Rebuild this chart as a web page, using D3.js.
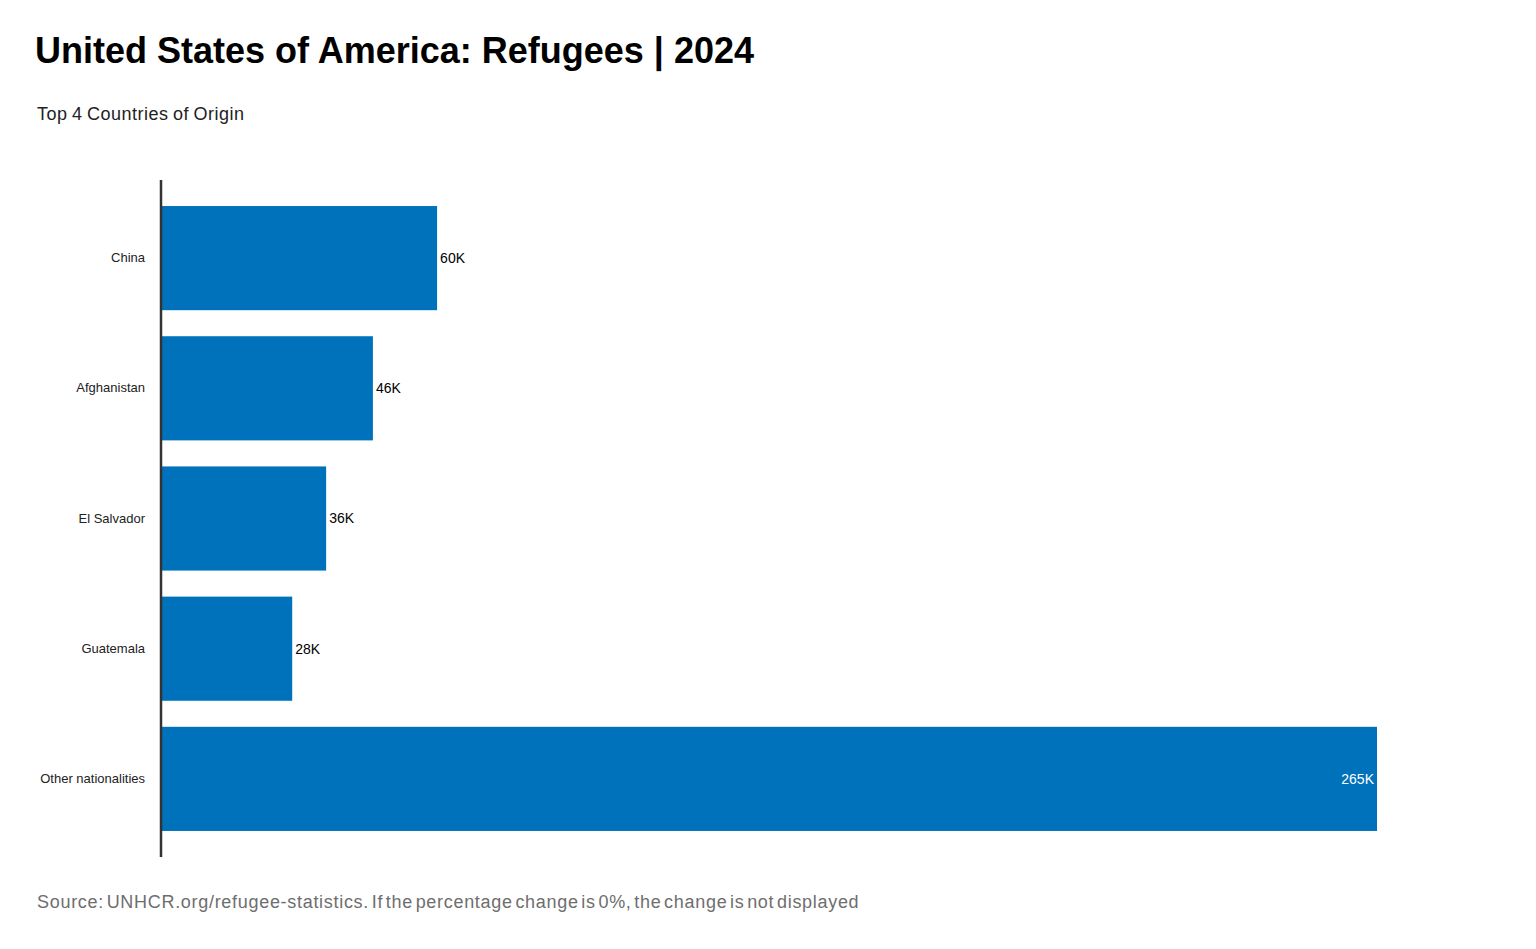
<!DOCTYPE html>
<html>
<head>
<meta charset="utf-8">
<script src="https://cdn.jsdelivr.net/npm/d3@7"></script>
<style>
  body { margin: 0; background: #fff; }
  svg { font-family: "Liberation Sans", Arial, sans-serif; }
</style>
</head>
<body>
<div class="chart"></div>
<script>
// DATA
const COUNTRIES = ["China", "Afghanistan", "El Salvador", "Guatemala", "Other nationalities"];
const REFUGEES = [60000, 46000, 35800, 28400, 265000];

const TITLE = "United States of America: Refugees | 2024";
const SUBTITLE = "Top 4 Countries of Origin";
const SOURCE = "Source: UNHCR.org/refugee-statistics. If the percentage change is 0%, the change is not displayed";

// GLOBAL CONSTANTS
const FRAME_WIDTH = 1536;
const FRAME_HEIGHT = 949;
const MARGINS = {left: 162, right: 159, top: 180, bottom: 92};

const data = COUNTRIES.map((c, i) => ({country: c, value: REFUGEES[i]}));

const FRAME = d3.select(".chart")
  .append("svg")
    .attr("width", FRAME_WIDTH)
    .attr("height", FRAME_HEIGHT);

// titles
FRAME.append("text")
  .attr("x", 35).attr("y", 63)
  .attr("font-size", "36px")
  .attr("font-weight", "bold")
  .attr("fill", "#000")
  .text(TITLE);

FRAME.append("text")
  .attr("x", 37).attr("y", 120)
  .attr("font-size", "18px")
  .attr("letter-spacing", "0.5px")
  .attr("word-spacing", "-1px")
  .attr("fill", "#222")
  .text(SUBTITLE);

FRAME.append("text")
  .attr("x", 37).attr("y", 908)
  .attr("font-size", "18px")
  .attr("letter-spacing", "0.7px")
  .attr("word-spacing", "-3px")
  .attr("fill", "#6e6e6e")
  .text(SOURCE);

// scales
const X_SCALE = d3.scaleLinear()
  .domain([0, d3.max(REFUGEES)])
  .range([MARGINS.left, FRAME_WIDTH - MARGINS.right]);

const Y_SCALE = d3.scaleBand()
  .domain(COUNTRIES)
  .range([MARGINS.top, FRAME_HEIGHT - MARGINS.bottom])
  .paddingInner(0.2)
  .paddingOuter(0.2);

// bars
FRAME.selectAll(".bar")
  .data(data)
  .enter()
  .append("rect")
    .attr("class", "bar")
    .attr("x", X_SCALE(0))
    .attr("y", (d) => Y_SCALE(d.country))
    .attr("width", (d) => X_SCALE(d.value) - X_SCALE(0))
    .attr("height", Y_SCALE.bandwidth())
    .attr("fill", "#0072bc");

// value labels (inside the bar if it is the longest one)
const fmt = (v) => Math.round(v / 1000) + "K";
const MAXV = d3.max(REFUGEES);

FRAME.selectAll(".val")
  .data(data)
  .enter()
  .append("text")
    .attr("class", "val")
    .attr("x", (d) => d.value === MAXV ? X_SCALE(d.value) - 3 : X_SCALE(d.value) + 3)
    .attr("y", (d) => Y_SCALE(d.country) + Y_SCALE.bandwidth() / 2)
    .attr("dy", "0.35em")
    .attr("text-anchor", (d) => d.value === MAXV ? "end" : "start")
    .attr("font-size", "14px")
    .attr("fill", (d) => d.value === MAXV ? "#fff" : "#000")
    .text((d) => fmt(d.value));

// y axis
const Y_AXIS = FRAME.append("g")
  .attr("transform", "translate(" + (MARGINS.left - 1) + ",0)")
  .call(d3.axisLeft(Y_SCALE).tickSize(0).tickPadding(16));

Y_AXIS.select(".domain")
  .attr("d", "M0," + MARGINS.top + "V" + (FRAME_HEIGHT - MARGINS.bottom))
  .attr("stroke", "#333")
  .attr("stroke-width", 2.5);

Y_AXIS.selectAll("text")
  .attr("font-family", "Liberation Sans, Arial, sans-serif")
  .attr("font-size", "13px")
  .attr("fill", "#222");
</script>
</body>
</html>
